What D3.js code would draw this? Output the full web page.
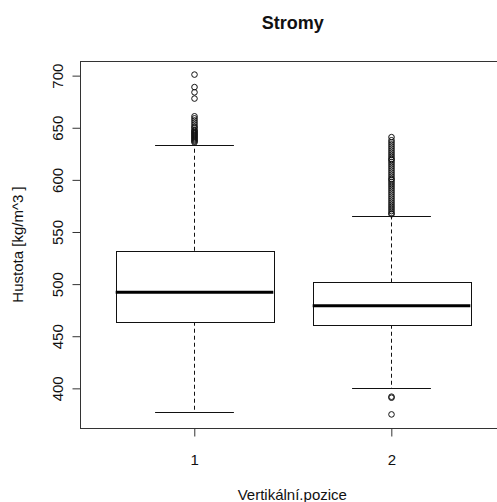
<!DOCTYPE html>
<html>
<head>
<meta charset="utf-8">
<script src="https://cdn.jsdelivr.net/npm/d3@7"></script>
<style>
html,body{margin:0;padding:0;background:#fff;}
svg{display:block;font-family:"Liberation Sans",Arial,sans-serif;}
</style>
</head>
<body>
<svg id="chart" width="497" height="502"></svg>
<script>
// ---- data ----
const categories = ["1", "2"];
const lowerWhisker = [377, 400];
const q1 = [463.9, 461];
const median = [492.3, 479.3];
const q3 = [532, 501.6];
const upperWhisker = [633.9, 565.8];
const outliers1 = [701, 689, 684, 678, 661, 659, 657, 655, 653, 651, 650, 648, 647, 646, 645, 644, 643, 642, 641, 640, 639, 638, 637, 636];
const outliers2 = [641, 638, 636, 634, 632, 630, 628, 626, 624, 622, 620, 619, 617, 615, 613, 611, 609, 607, 605, 603, 601, 600, 598, 596, 594, 592, 590, 588, 586, 584, 582, 580, 578, 576, 574, 572, 570, 568, 567, 392, 391, 375];
const yTicks = [400, 450, 500, 550, 600, 650, 700];
const title = "Stromy";
const xLabel = "Vertikální.pozice";
const yLabel = "Hustota [kg/m^3 ]";

(function () {
const outliers = [outliers1, outliers2];
const boxes = categories.map((c, i) => ({
  cat: c, x: i + 1, lo: lowerWhisker[i], q1: q1[i], med: median[i], q3: q3[i], hi: upperWhisker[i], out: outliers[i]
}));

const svg = d3.select("#chart");
const pLeft = 80, pRight = 505.6, pTop = 61, pBottom = 428;

const allVals = [].concat(...boxes.map(b => [b.lo, b.hi, ...b.out]));
const dmin = d3.min(allVals), dmax = d3.max(allVals), ext = (dmax - dmin) * 0.04;
const y = d3.scaleLinear().domain([dmin - ext, dmax + ext]).range([pBottom, pTop]);
const x = d3.scaleLinear().domain([0.42, 2.58]).range([pLeft, pRight]);

const unit = x(2) - x(1);
const halfW = 0.4 * unit;
const stapleHalf = halfW * 0.5;
const stroke = "#111";

const g = svg.append("g");

boxes.forEach(b => {
  const cx = Math.round(x(b.x)) + 0.5;
  g.append("line").attr("x1", cx).attr("x2", cx).attr("y1", y(b.q3)).attr("y2", y(b.hi))
    .attr("stroke", stroke).attr("stroke-dasharray", "4,3");
  g.append("line").attr("x1", cx).attr("x2", cx).attr("y1", y(b.q1)).attr("y2", y(b.lo))
    .attr("stroke", stroke).attr("stroke-dasharray", "4,3");
  [b.hi, b.lo].forEach(v => {
    g.append("line").attr("x1", cx - stapleHalf).attr("x2", cx + stapleHalf)
      .attr("y1", Math.round(y(v)) + 0.5).attr("y2", Math.round(y(v)) + 0.5).attr("stroke", stroke);
  });
  g.append("rect").attr("x", Math.round(cx - halfW) + 0.5).attr("y", Math.round(y(b.q3)) + 0.5)
    .attr("width", Math.round(2 * halfW)).attr("height", Math.round(y(b.q1)) - Math.round(y(b.q3)))
    .attr("fill", "#fff").attr("stroke", stroke);
  g.append("line").attr("x1", cx - halfW).attr("x2", cx + halfW)
    .attr("y1", y(b.med)).attr("y2", y(b.med)).attr("stroke", "#000").attr("stroke-width", 3);
  g.selectAll(null).data(b.out).enter().append("circle")
    .attr("cx", cx).attr("cy", d => y(d)).attr("r", 2.8)
    .attr("fill", "none").attr("stroke", stroke).attr("stroke-width", 1);
});

// frame
svg.append("rect").attr("x", pLeft + 0.5).attr("y", Math.round(pTop) + 0.5)
  .attr("width", pRight - pLeft).attr("height", Math.round(pBottom) - Math.round(pTop))
  .attr("fill", "none").attr("stroke", "#333");

// y axis (R style: detached from frame)
const yAxis = svg.append("g").attr("transform", `translate(${pLeft + 0.5},0)`)
  .call(d3.axisLeft(y).tickValues(yTicks).tickSize(8).tickSizeOuter(0));
yAxis.select(".domain").remove();
yAxis.selectAll(".tick line").attr("stroke", "#333");
yAxis.selectAll(".tick text")
  .attr("x", null).attr("dy", null)
  .attr("transform", "translate(-18,0) rotate(-90)")
  .attr("text-anchor", "middle").attr("font-size", 15).attr("fill", "#111")
  .attr("font-family", "Liberation Sans, Arial, sans-serif");

// x axis
const xAxis = svg.append("g").attr("transform", `translate(0,${Math.round(pBottom) + 0.5})`)
  .call(d3.axisBottom(x).tickValues([1, 2]).tickFormat((d, i) => categories[i]).tickSize(8).tickSizeOuter(0));
xAxis.select(".domain").remove();
xAxis.selectAll(".tick line").attr("stroke", "#333");
xAxis.selectAll(".tick text").attr("y", 36).attr("dy", null)
  .attr("font-size", 15).attr("fill", "#111").attr("font-family", "Liberation Sans, Arial, sans-serif");

// title
svg.append("text").attr("x", (pLeft + pRight) / 2).attr("y", 29).attr("text-anchor", "middle")
  .attr("font-size", 18).attr("font-weight", "bold").attr("fill", "#111").text(title);

// axis labels
svg.append("text").attr("x", (pLeft + pRight) / 2 - 0.5).attr("y", 500).attr("text-anchor", "middle")
  .attr("font-size", 15).attr("fill", "#111").text(xLabel);
svg.append("text").attr("transform", `translate(23,${(pTop + pBottom) / 2}) rotate(-90)`)
  .attr("text-anchor", "middle").attr("font-size", 15).attr("fill", "#111").text(yLabel);
})();
</script>
</body>
</html>
